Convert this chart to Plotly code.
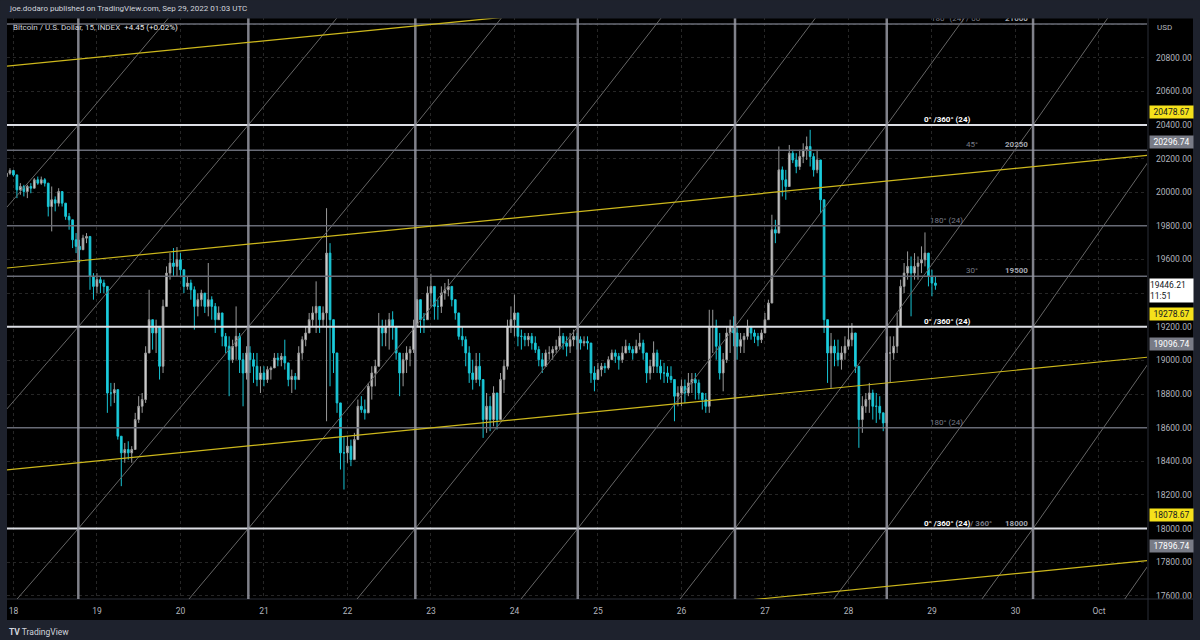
import plotly.graph_objects as go
import pandas as pd

# ---------------- data ----------------
bar_times = pd.date_range("2022-09-17 22:00", periods=268, freq="h")  # hourly bars
first_open = 20093

highs = [
    20137, 20143, 20133, 20044, 20054, 20044, 20044, 20054, 20084, 20093,
    20093, 20084, 20054, 20034, 19975, 20024, 20004, 19935, 19876, 19796,
    19757, 19717, 19747, 19757, 19717, 19519, 19519, 19499, 19480, 19440,
    18866, 18866, 18826, 18529, 18509, 18519, 18490, 18688, 18787, 18806,
    19084, 19420, 19242, 19242, 19202, 19361, 19559, 19638, 19668, 19674,
    19638, 19539, 19499, 19480, 19440, 19400, 19420, 19400, 19579, 19381,
    19341, 19321, 19242, 19163, 19143, 19123, 19321, 19163, 19044, 19084,
    19084, 19044, 19044, 18965, 18965, 18965, 18965, 19044, 19044, 19044,
    19123, 18965, 18945, 18925, 19084, 19143, 19202, 19282, 19321, 19470,
    19301, 19321, 19905, 19697, 19242, 19044, 18688, 18549, 18549, 18529,
    18569, 18767, 18787, 18767, 18866, 18965, 19004, 19282, 19242, 19242,
    19282, 19292, 19163, 19044, 19044, 19084, 19084, 19242, 19490, 19321,
    19282, 19440, 19515, 19400, 19361, 19440, 19460, 19484, 19440, 19361,
    19282, 19202, 19143, 19084, 19004, 19044, 19044, 18846, 18806, 18787,
    18846, 18806, 18925, 19004, 19242, 19321, 19391, 19242, 19183, 19163,
    19163, 19163, 19143, 19084, 19044, 19064, 19084, 19084, 19123, 19202,
    19163, 19143, 19163, 19183, 19163, 19143, 19143, 19143, 19044, 18965,
    18985, 18985, 18985, 19024, 19064, 19064, 19044, 19084, 19123, 19103,
    19084, 19123, 19163, 19123, 19044, 19004, 19113, 19064, 19004, 18985,
    18965, 18965, 18886, 18846, 18886, 18886, 18925, 18925, 18925, 18886,
    18806, 18806, 19301, 19301, 19242, 19163, 19044, 19202, 19242, 19262,
    19202, 19163, 19163, 19242, 19202, 19183, 19163, 19183, 19282, 19361,
    19866, 19836, 20272, 20153, 20133, 20281, 20252, 20232, 20252, 20291,
    20331, 20371, 20232, 20252, 20192, 19876, 19202, 19163, 19123, 19123,
    19084, 19143, 19202, 19222, 19084, 18925, 18787, 18806, 18866, 18826,
    18806, 18787, 18688, 19143, 19143, 19143, 19282, 19480, 19579, 19648,
    19618, 19638, 19618, 19678, 19761, 19579, 19539, 19499,
]
lows = [
    20004, 20103, 20093, 19965, 19985, 19975, 19965, 19994, 20034, 20044,
    20044, 20034, 19856, 19767, 19886, 19915, 19915, 19836, 19777, 19668,
    19638, 19579, 19678, 19697, 19420, 19361, 19400, 19400, 19400, 18688,
    18727, 18747, 18529, 18252, 18391, 18410, 18391, 18470, 18628, 18688,
    18747, 19044, 19064, 19044, 18886, 18925, 19321, 19480, 19499, 19499,
    19499, 19400, 19420, 19361, 19183, 19262, 19321, 19282, 19262, 19242,
    19163, 19242, 19084, 19044, 18787, 18985, 19004, 18925, 18727, 18886,
    18925, 18866, 18846, 18806, 18846, 18866, 18886, 18965, 18965, 18965,
    18945, 18846, 18806, 18826, 18925, 19004, 19084, 19202, 19202, 19163,
    19163, 19202, 18638, 18846, 18925, 18688, 18351, 18232, 18391, 18371,
    18450, 18549, 18688, 18648, 18688, 18767, 18846, 18965, 19084, 19084,
    19064, 19123, 19004, 18787, 18846, 18925, 18965, 19044, 19202, 19163,
    19163, 19282, 19321, 19242, 19242, 19282, 19361, 19381, 19321, 19242,
    19123, 19084, 18965, 18866, 18826, 18866, 18846, 18539, 18569, 18579,
    18608, 18589, 18648, 18806, 18945, 19163, 19143, 19084, 19064, 19084,
    19084, 19064, 19044, 18965, 18925, 18965, 19004, 19004, 19044, 19064,
    19064, 19024, 19044, 19084, 19064, 19064, 19084, 19064, 18866, 18816,
    18886, 18905, 18925, 18945, 19004, 18985, 18945, 18985, 19044, 19044,
    19004, 19044, 19064, 19004, 18866, 18886, 18925, 18925, 18886, 18866,
    18866, 18866, 18638, 18727, 18727, 18747, 18787, 18806, 18767, 18767,
    18707, 18688, 18688, 19044, 19004, 18886, 18816, 18985, 19044, 19084,
    19004, 19044, 19044, 19123, 19123, 19103, 19084, 19103, 19163, 19242,
    19361, 19697, 19836, 19975, 19955, 20133, 20173, 20113, 20133, 20173,
    20192, 20153, 20093, 20113, 19876, 19163, 18866, 18836, 18965, 18965,
    18945, 19004, 19064, 19084, 18925, 18480, 18569, 18688, 18688, 18648,
    18628, 18648, 18579, 18608, 18866, 19004, 19044, 19202, 19400, 19480,
    19262, 19480, 19480, 19519, 19559, 19440, 19381, 19420,
]
closes = [
    20113, 20129, 20103, 20014, 20034, 20004, 20034, 20024, 20074, 20054,
    20074, 20054, 19915, 19955, 19935, 20004, 19935, 19856, 19836, 19717,
    19678, 19658, 19727, 19737, 19499, 19440, 19480, 19460, 19440, 18806,
    18806, 18826, 18549, 18450, 18470, 18450, 18470, 18648, 18727, 18767,
    19044, 19242, 19163, 19202, 18965, 19321, 19519, 19579, 19559, 19598,
    19539, 19440, 19460, 19420, 19321, 19361, 19400, 19321, 19361, 19321,
    19242, 19282, 19143, 19084, 19004, 19084, 19143, 19004, 18925, 19044,
    19004, 18965, 18886, 18925, 18886, 18945, 18955, 19014, 19004, 19024,
    18985, 18886, 18905, 18886, 19044, 19123, 19163, 19242, 19282, 19321,
    19242, 19282, 19638, 19242, 19044, 18747, 18450, 18450, 18490, 18410,
    18529, 18727, 18707, 18688, 18846, 18925, 18965, 19202, 19163, 19202,
    19242, 19202, 19044, 18925, 19004, 19044, 19064, 19202, 19361, 19242,
    19242, 19400, 19440, 19321, 19321, 19400, 19420, 19440, 19361, 19282,
    19143, 19123, 19044, 18925, 18886, 18965, 18886, 18648, 18727, 18648,
    18806, 18648, 18886, 18965, 19202, 19242, 19282, 19143, 19143, 19123,
    19143, 19103, 19064, 19004, 18965, 19044, 19044, 19064, 19084, 19143,
    19103, 19084, 19123, 19143, 19123, 19103, 19113, 19103, 18925, 18886,
    18945, 18965, 18955, 19004, 19044, 19024, 19004, 19044, 19084, 19064,
    19044, 19084, 19103, 19044, 18925, 18965, 19044, 18965, 18925, 18925,
    18905, 18886, 18787, 18806, 18846, 18806, 18866, 18886, 18866, 18806,
    18767, 18727, 19202, 19202, 19084, 18925, 19004, 19163, 19202, 19163,
    19084, 19123, 19143, 19202, 19163, 19143, 19123, 19163, 19242, 19341,
    19777, 19757, 20133, 20074, 20034, 20232, 20192, 20153, 20212, 20252,
    20272, 20212, 20133, 20192, 19955, 19242, 19044, 19084, 19044, 19004,
    19044, 19084, 19123, 19163, 18965, 18648, 18727, 18767, 18806, 18727,
    18727, 18688, 18628, 19044, 19044, 19084, 19202, 19440, 19519, 19559,
    19519, 19559, 19579, 19598, 19638, 19499, 19460, 19446.21,
]

# Gann box drawing
white_levels = [20400, 19200, 18000]
gray_levels = [21000, 20250, 19800, 19500, 18600]
vline_times = ["2022-09-18 18:39", "2022-09-20 19:31", "2022-09-22 19:31",
               "2022-09-24 18:12", "2022-09-26 15:24", "2022-09-28 11:01",
               "2022-09-30 05:04"]
grid_times = ["2022-09-16 16:15"] + vline_times + ["2022-10-01 21:34"]
grid_levels = [16800, 18000, 19200, 20400, 21600]

# parallel yellow channel
yellow_t = ["2022-09-17 22:00", "2022-10-01 14:00"]
yellow_p = [19549, 20219]
yellow_offsets = [1200, 0, -1200, -2410]

# axes
price_ticks = [17600 + 200 * i for i in range(18)]
hidden_price_ticks = [19400, 21000]
day_ticks = pd.date_range("2022-09-18", "2022-10-01", freq="D")
day_labels = [str(d.day) if d.month == 9 else "Oct" for d in day_ticks]

tag_prices = [20478.67, 20296.74, 19278.67, 19096.74, 18078.67, 17896.74]
tag_kinds = ["y", "g", "y", "g", "y", "g"]
last_price = 19446.21
countdown = "11:51"

# level labels: (pixel-x, level, text, kind)
level_labels = [
    (923, 20400, "0° /360° (24)", "w"),
    (923, 19200, "0° /360° (24)", "w"),
    (923, 18000, "0° /360° (24)<span style='color:#787b86'>/ 360°</span>", "w"),
    (965, 20250, "45°", "g"),
    (1004, 20250, "20250", "v"),
    (965, 19500, "30°", "g"),
    (1004, 19500, "19500", "v"),
    (929, 19800, "180° (24)", "g"),
    (929, 18600, "180° (24)", "g"),
    (1004, 18000, "18000", "v"),
    (930, 21000, "180° (24) / 00", "g"),
    (1004, 21000, "21000", "v"),
]

# ---------------- figure ----------------
opens = [first_open] + closes[:-1]
hi = [max(h, o, c) for h, o, c in zip(highs, opens, closes)]
lo = [min(l, o, c) for l, o, c in zip(lows, opens, closes)]

W, H = 1200, 640
L, R, T, B = 7, 53, 17, 41
PW, PH = W - L - R, H - T - B


def px(xp):
    return (xp - L) / PW


def py(yp):
    return (H - B - yp) / PH


fig = go.Figure()
fig.add_trace(go.Candlestick(
    x=bar_times, open=opens, high=hi, low=lo, close=closes,
    increasing=dict(line=dict(color="#9a9a9a", width=1), fillcolor="#dedede"),
    decreasing=dict(line=dict(color="#17c3d3", width=1), fillcolor="#22d0e0"),
    whiskerwidth=0, hoverinfo="skip", showlegend=False,
))

shapes = []
# strips / panels
shapes.append(dict(type="rect", xref="paper", yref="paper", x0=0, x1=px(1193),
                   y0=py(620), y1=0, fillcolor="#000000", line_width=0, layer="below"))
shapes.append(dict(type="rect", xref="paper", yref="paper", x0=1, x1=px(1193),
                   y0=py(620), y1=1, fillcolor="#000000", line_width=0, layer="below"))
shapes.append(dict(type="line", xref="paper", yref="paper", x0=px(1148), x1=px(1148),
                   y0=py(620), y1=1, line=dict(color="#2a2e39", width=1)))
shapes.append(dict(type="line", xref="paper", yref="paper", x0=0, x1=px(1193),
                   y0=0, y1=0, line=dict(color="#2a2e39", width=1)))

# diagonals of the gann grid
for i in range(len(grid_times) - 1):
    for j in range(len(grid_levels) - 1):
        shapes.append(dict(type="line", xref="x", yref="y",
                           x0=grid_times[i], y0=grid_levels[j],
                           x1=grid_times[i + 1], y1=grid_levels[j + 1],
                           line=dict(color="#666666", width=1), layer="above"))
# horizontal levels
for lv in gray_levels:
    shapes.append(dict(type="line", xref="paper", yref="y", x0=0, x1=1, y0=lv, y1=lv,
                       line=dict(color="#686b76", width=1.5), layer="above"))
for lv in white_levels:
    shapes.append(dict(type="line", xref="paper", yref="y", x0=0, x1=1, y0=lv, y1=lv,
                       line=dict(color="#dcdee4", width=2), layer="above"))
# vertical time lines
for t in vline_times:
    shapes.append(dict(type="line", xref="x", yref="paper", x0=t, x1=t, y0=0, y1=1,
                       line=dict(color="rgba(150,152,162,0.85)", width=2.5), layer="above"))
# yellow channel
for off in yellow_offsets:
    shapes.append(dict(type="line", xref="x", yref="y",
                       x0=yellow_t[0], y0=yellow_p[0] + off,
                       x1=yellow_t[1], y1=yellow_p[1] + off,
                       line=dict(color="#cdb81c", width=1.2), layer="above"))

ann = []
FONT = "Roboto"
# level labels
for xp, lv, txt, kind in level_labels:
    col = {"w": "#ffffff", "g": "#787b86", "v": "#a3a6af"}[kind]
    bold = kind in ("w", "v")
    ann.append(dict(xref="paper", yref="y", x=px(xp), y=lv, xanchor="left",
                    yanchor="bottom", showarrow=False, borderpad=0,
                    text=("<b>%s</b>" % txt) if bold else txt,
                    font=dict(family=FONT, size=8, color=col)))
# price tags on axis
for p, k in zip(tag_prices, tag_kinds):
    bg, fg = ("#f5e11b", "#131722") if k == "y" else ("#787b86", "#ffffff")
    ann.append(dict(xref="paper", yref="y", x=px(1149), y=p, xanchor="left",
                    yanchor="middle", showarrow=False, text="%.2f" % p,
                    bgcolor=bg, width=43, height=12, borderpad=0,
                    font=dict(family=FONT, size=8.5, color=fg)))
ann.append(dict(xref="paper", yref="y", x=px(1149), y=last_price, xanchor="left",
                yanchor="top", yshift=7, showarrow=False, align="left",
                text="%.2f<br>%s" % (last_price, countdown),
                bgcolor="#ffffff", width=43, height=23, borderpad=0,
                font=dict(family=FONT, size=8.5, color="#131722")))
ann.append(dict(xref="paper", yref="paper", x=px(1155), y=py(27), xanchor="left",
                yanchor="middle", showarrow=False, text="USD",
                font=dict(family=FONT, size=8, color="#b2b5be")))
# symbol legend
ann.append(dict(xref="paper", yref="paper", x=px(11), y=py(27), xanchor="left",
                yanchor="middle", showarrow=False,
                text="Bitcoin / U.S. Dollar, 15, INDEX&nbsp;&nbsp;<span style='color:#e8e8e8'>+4.45 (+0.02%)</span>",
                font=dict(family=FONT, size=8, color="#d1d4dc")))
# footer logo
ann.append(dict(xref="paper", yref="paper", x=px(7), y=py(632), xanchor="left",
                yanchor="middle", showarrow=False,
                text="<b>TV</b> TradingView",
                font=dict(family=FONT, size=8.5, color="#d1d4dc")))
# header bar background (drawn after labels, covers clipped label tops)
ann.append(dict(xref="paper", yref="paper", x=px(0), y=py(0), xanchor="left",
                yanchor="top", showarrow=False, text=" ",
                width=W, height=T, borderpad=0, bgcolor="#1e222d",
                font=dict(family=FONT, size=8, color="#1e222d")))
ann.append(dict(xref="paper", yref="paper", x=px(7), y=py(8.5), xanchor="left",
                yanchor="middle", showarrow=False,
                text="joe.dodaro published on TradingView.com, Sep 29, 2022 01:03 UTC",
                font=dict(family=FONT, size=8, color="#d1d4dc")))

fig.update_layout(
    width=W, height=H, margin=dict(l=L, r=R, t=T, b=B, pad=0),
    paper_bgcolor="#1e222d", plot_bgcolor="#000000",
    shapes=shapes, annotations=ann, showlegend=False,
    xaxis=dict(type="date", range=["2022-09-17 22:09", "2022-10-01 13:49"],
               rangeslider=dict(visible=False), tickvals=day_ticks, ticktext=day_labels,
               showgrid=True, gridcolor="#262626", griddash="dot", zeroline=False,
               ticks="", showline=False, ticklabelstandoff=5,
               tickfont=dict(family=FONT, size=8.5, color="#b2b5be")),
    yaxis=dict(side="right", range=[17581, 21042], tickvals=price_ticks,
               ticktext=["" if v in hidden_price_ticks else "%.2f" % v for v in price_ticks],
               showgrid=True, gridcolor="#262626", griddash="dot", zeroline=False,
               ticks="", showline=False, ticklabelstandoff=8,
               tickfont=dict(family=FONT, size=8.5, color="#b2b5be")),
)

fig.write_html("out.html")
